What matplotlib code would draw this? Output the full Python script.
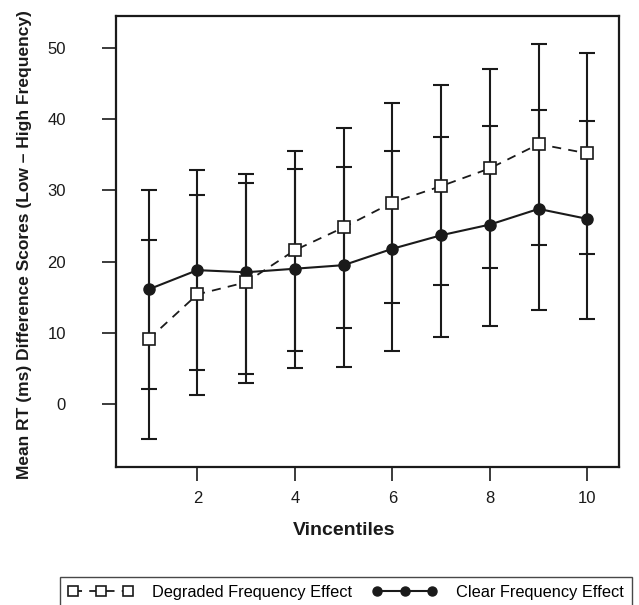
import numpy as np
import matplotlib
matplotlib.use("Agg")
import matplotlib.pyplot as plt

plt.rcParams['font.family'] = ['Liberation Sans', 'DejaVu Sans']

# data
vincentiles = np.arange(1, 11)

degraded_mean = [9.1, 15.4, 17.1, 21.6, 24.8, 28.3, 30.6, 33.1, 36.5, 35.2]
degraded_hi = [23.1, 29.35, 31.1, 35.5, 38.8, 42.3, 44.75, 47.0, 50.5, 49.25]
degraded_lo = [-4.9, 1.26, 3.0, 7.5, 10.7, 14.2, 16.7, 19.15, 22.4, 21.1]

clear_mean = [16.1, 18.8, 18.5, 19.0, 19.5, 21.8, 23.7, 25.2, 27.4, 26.0]
clear_hi = [30.05, 32.9, 32.3, 33.05, 33.3, 35.5, 37.55, 39.04, 41.3, 39.8]
clear_lo = [2.06, 4.78, 4.2, 5.0, 5.24, 7.5, 9.46, 11.0, 13.2, 11.9]

xticks = [2, 4, 6, 8, 10]
yticks = [0, 10, 20, 30, 40, 50]

INK = '#1a1a1a'

fig = plt.figure(figsize=(6.39, 6.05), dpi=100)
ax = fig.add_axes([0.1815, 0.2281, 0.968 - 0.1815, 0.9736 - 0.2281])

def draw_bars(mean, lo, hi):
    mean = np.array(mean)
    yerr = [mean - np.array(lo), np.array(hi) - mean]
    ax.errorbar(vincentiles, mean, yerr=yerr, fmt='none', ecolor=INK,
                elinewidth=1.5, capsize=5.8, capthick=1.5, zorder=2)

draw_bars(degraded_mean, degraded_lo, degraded_hi)
draw_bars(clear_mean, clear_lo, clear_hi)

ax.plot(vincentiles, clear_mean, color=INK, lw=1.5, marker='o',
        markersize=8, markerfacecolor=INK, markeredgecolor=INK,
        zorder=3, label='Clear Frequency Effect')
ax.plot(vincentiles, degraded_mean, color=INK, lw=1.3, ls=(0, (5, 4)),
        marker='s', markersize=8, markerfacecolor='white',
        markeredgecolor=INK, markeredgewidth=1.2, zorder=4,
        label='Degraded Frequency Effect')

ax.set_xlim(0.33, 10.64)
ax.set_ylim(-8.85, 54.5)
ax.set_xticks(xticks)
ax.set_yticks(yticks)
ax.tick_params(direction='out', length=10, width=1.2, labelsize=12,
               color=INK, labelcolor=INK)
ax.tick_params(axis='x', pad=7)
ax.tick_params(axis='y', pad=26)
for s in ax.spines.values():
    s.set_linewidth(1.6)
    s.set_color(INK)

ax.set_xlabel('Vincentiles', fontsize=14, fontweight='bold', color=INK)
ax.xaxis.set_label_coords(0.453, -0.123)
ax.set_ylabel('Mean RT (ms) Difference Scores (Low \u2013 High Frequency)',
              fontsize=12.5, fontweight='bold', color=INK)
ax.yaxis.set_label_coords(-0.167, 0.493)

h, l = ax.get_legend_handles_labels()
leg = fig.legend(h[::-1], l[::-1], loc='upper left', ncol=2, numpoints=3,
                 bbox_to_anchor=(60 / 639, 1 - 577 / 605), fontsize=11.8,
                 frameon=True, fancybox=False, edgecolor=INK,
                 handlelength=3.96, handletextpad=1.14, columnspacing=1.26,
                 borderpad=0.5, borderaxespad=0)
leg.get_frame().set_linewidth(1.0)
for hl in leg.legend_handles:
    hl.set_markersize(6.5)

fig.savefig('out.png', dpi=100)
